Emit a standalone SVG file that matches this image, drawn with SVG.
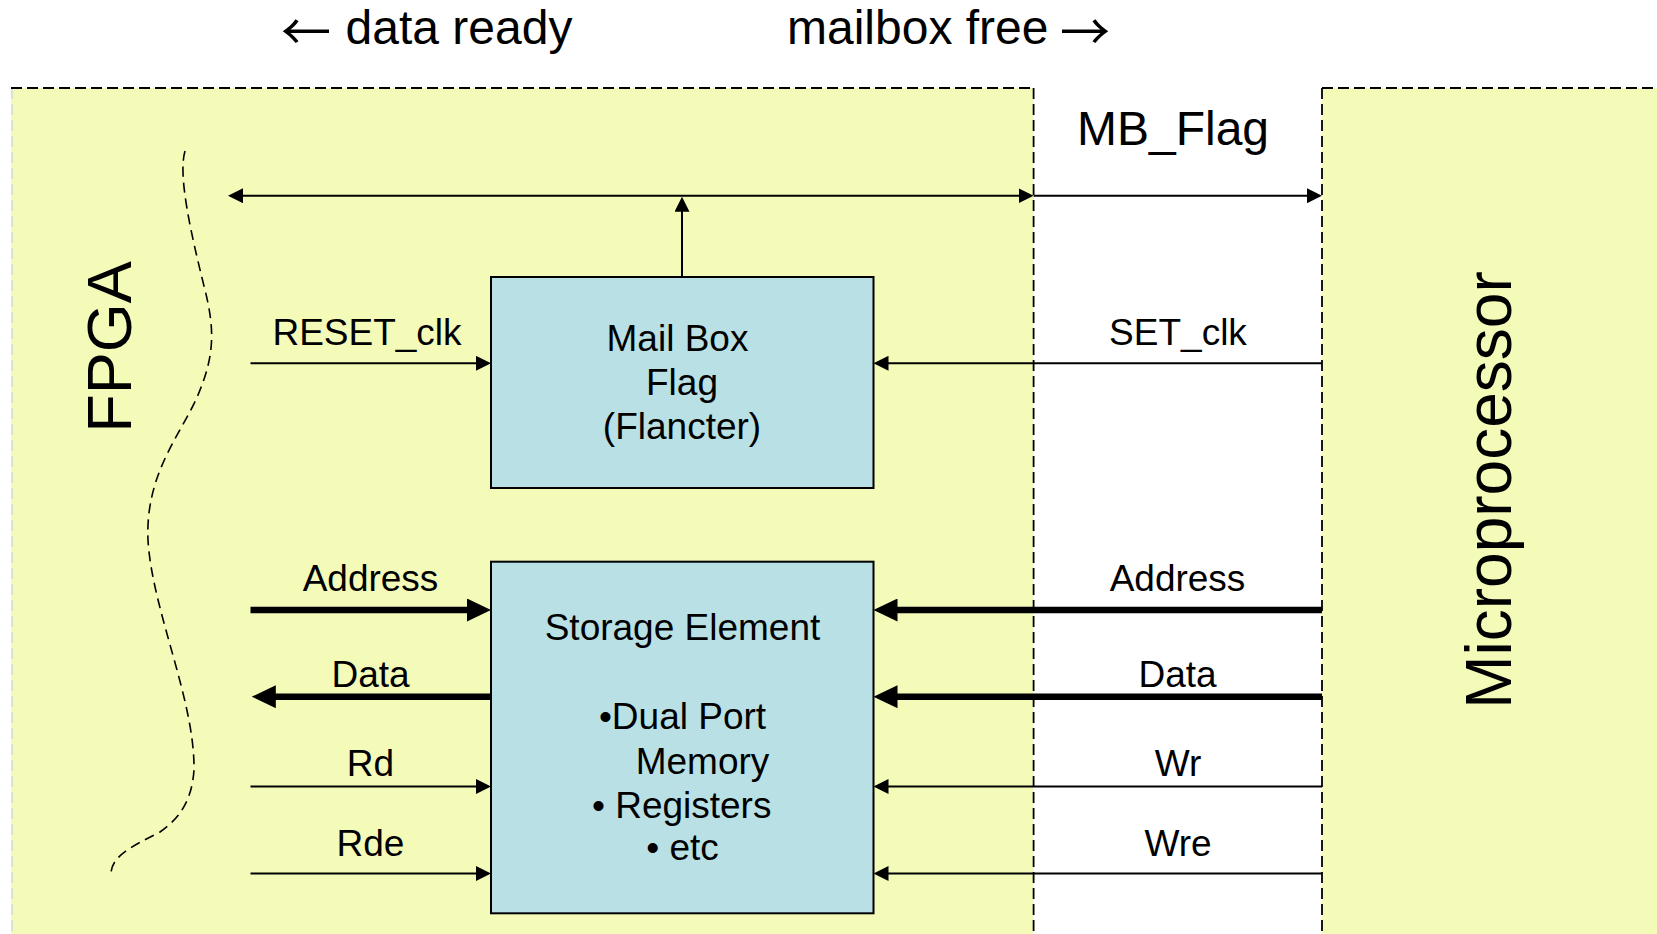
<svg xmlns="http://www.w3.org/2000/svg" width="1657" height="934" viewBox="0 0 1657 934">
<style>
  .panel { fill: #F4FAB8; stroke: none; }
  .border { fill: none; stroke: #000; stroke-width: 1.8; stroke-dasharray: 11 5; }
  .faint { fill: none; stroke: #D8D8D8; stroke-width: 1.5; stroke-dasharray: 11 5; }
  .box { fill: #B9E0E4; stroke: #000; stroke-width: 2; }
  .t { font-family: "Liberation Sans", Arial, sans-serif; fill: #000; }
  .arr { font-family: "Noto Sans CJK SC", "DejaVu Sans", sans-serif; font-size: 50px; fill: #000; }
  .thin { fill: none; stroke: #000; stroke-width: 2; }
  .thick { fill: none; stroke: #000; stroke-width: 6.5; }
  .wave { fill: none; stroke: #000; stroke-width: 1.6; stroke-dasharray: 10 6; }
</style>
<defs>
  <marker id="ah" viewBox="0 0 15 15" refX="11" refY="7.5" markerWidth="15" markerHeight="15" markerUnits="userSpaceOnUse" orient="auto-start-reverse">
    <path d="M0,0 L15,7.5 L0,15 z" fill="#000"/>
  </marker>
  <marker id="ahT" viewBox="0 0 24 23" refX="16" refY="11.5" markerWidth="24" markerHeight="23" markerUnits="userSpaceOnUse" orient="auto-start-reverse">
    <path d="M0,0 L24,11.5 L0,23 z" fill="#000"/>
  </marker>
</defs>

<g id="fpga-panel">
  <rect class="panel" x="11" y="88" width="1022.6" height="850"/>
  <line class="faint" x1="12" y1="88" x2="12" y2="934"/>
  <line class="border" x1="11" y1="88" x2="1033.6" y2="88"/>
  <line class="border" x1="1033.6" y1="88" x2="1033.6" y2="934"/>
  <text class="t" font-size="63" transform="translate(131,347) rotate(-90)" text-anchor="middle">FPGA</text>
  <path class="wave" d="M185 151 C178 175 190 230 205 290 C215 330 214 355 200 390 C185 430 145 470 148 540 C152 610 195 700 194 770 C192 800 180 818 160 832 C135 845 112 855 111 873"/>
</g>

<g id="micro-panel">
  <rect class="panel" x="1322" y="88" width="340" height="850"/>
  <line class="border" x1="1322" y1="88" x2="1657" y2="88"/>
  <line class="border" x1="1322" y1="88" x2="1322" y2="934"/>
  <text class="t" font-size="64" transform="translate(1511,490) rotate(-90)" text-anchor="middle">Microprocessor</text>
</g>

<g id="top-labels">
  <text class="arr" x="306" y="50" text-anchor="middle">←</text>
  <text class="t" font-size="48" x="345.6" y="43.5">data ready</text>
  <text class="t" font-size="48" x="787" y="43.5">mailbox free</text>
  <text class="arr" x="1085" y="50" text-anchor="middle">→</text>
  <text class="t" font-size="48" x="1173" y="145" text-anchor="middle">MB_Flag</text>
</g>

<g id="mailbox-flag">
  <rect class="box" x="491" y="277" width="382.5" height="211"/>
  <text class="t" font-size="37" x="677.5" y="351" text-anchor="middle">Mail Box</text>
  <text class="t" font-size="37" x="682" y="395" text-anchor="middle">Flag</text>
  <text class="t" font-size="37" x="682" y="439" text-anchor="middle">(Flancter)</text>
</g>

<g id="storage-element">
  <rect class="box" x="491" y="561.7" width="382.5" height="351.6"/>
  <text class="t" font-size="37" x="682.5" y="640" text-anchor="middle">Storage Element</text>
  <text class="t" font-size="37" x="682.5" y="728.5" text-anchor="middle">•Dual Port</text>
  <text class="t" font-size="37" x="702.5" y="773.5" text-anchor="middle">Memory</text>
  <text class="t" font-size="37" x="681.7" y="818" text-anchor="middle">• Registers</text>
  <text class="t" font-size="37" x="682.5" y="860" text-anchor="middle">• etc</text>
</g>

<g id="connectors">
  <line class="thin" x1="232" y1="195.7" x2="1029.6" y2="195.7" marker-start="url(#ah)" marker-end="url(#ah)"/>
  <line class="thin" x1="1033.6" y1="195.7" x2="1318" y2="195.7" marker-end="url(#ah)"/>
  <line class="thin" x1="682" y1="277" x2="682" y2="200.7" marker-end="url(#ah)"/>

  <line class="thin" x1="250.5" y1="363.3" x2="487" y2="363.3" marker-end="url(#ah)"/>
  <line class="thin" x1="1322" y1="363.3" x2="877.5" y2="363.3" marker-end="url(#ah)"/>

  <line class="thick" x1="250.5" y1="610" x2="483" y2="610" marker-end="url(#ahT)"/>
  <line class="thick" x1="491" y1="696.7" x2="259.8" y2="696.7" marker-end="url(#ahT)"/>
  <line class="thin" x1="250.5" y1="786.5" x2="487" y2="786.5" marker-end="url(#ah)"/>
  <line class="thin" x1="250.5" y1="873.5" x2="487" y2="873.5" marker-end="url(#ah)"/>

  <line class="thick" x1="1322" y1="610" x2="881.5" y2="610" marker-end="url(#ahT)"/>
  <line class="thick" x1="1322" y1="696.7" x2="881.5" y2="696.7" marker-end="url(#ahT)"/>
  <line class="thin" x1="1322" y1="786.5" x2="877.5" y2="786.5" marker-end="url(#ah)"/>
  <line class="thin" x1="1322" y1="873.5" x2="877.5" y2="873.5" marker-end="url(#ah)"/>
</g>

<g id="signal-labels">
  <text class="t" font-size="37" x="367" y="345" text-anchor="middle">RESET_clk</text>
  <text class="t" font-size="37" x="370.5" y="591" text-anchor="middle">Address</text>
  <text class="t" font-size="37" x="370.5" y="687" text-anchor="middle">Data</text>
  <text class="t" font-size="37" x="370.5" y="775.5" text-anchor="middle">Rd</text>
  <text class="t" font-size="37" x="370.5" y="855.5" text-anchor="middle">Rde</text>
  <text class="t" font-size="37" x="1178" y="345" text-anchor="middle">SET_clk</text>
  <text class="t" font-size="37" x="1177.5" y="591" text-anchor="middle">Address</text>
  <text class="t" font-size="37" x="1177.5" y="687" text-anchor="middle">Data</text>
  <text class="t" font-size="37" x="1178" y="775.5" text-anchor="middle">Wr</text>
  <text class="t" font-size="37" x="1178" y="855.5" text-anchor="middle">Wre</text>
</g>
</svg>
